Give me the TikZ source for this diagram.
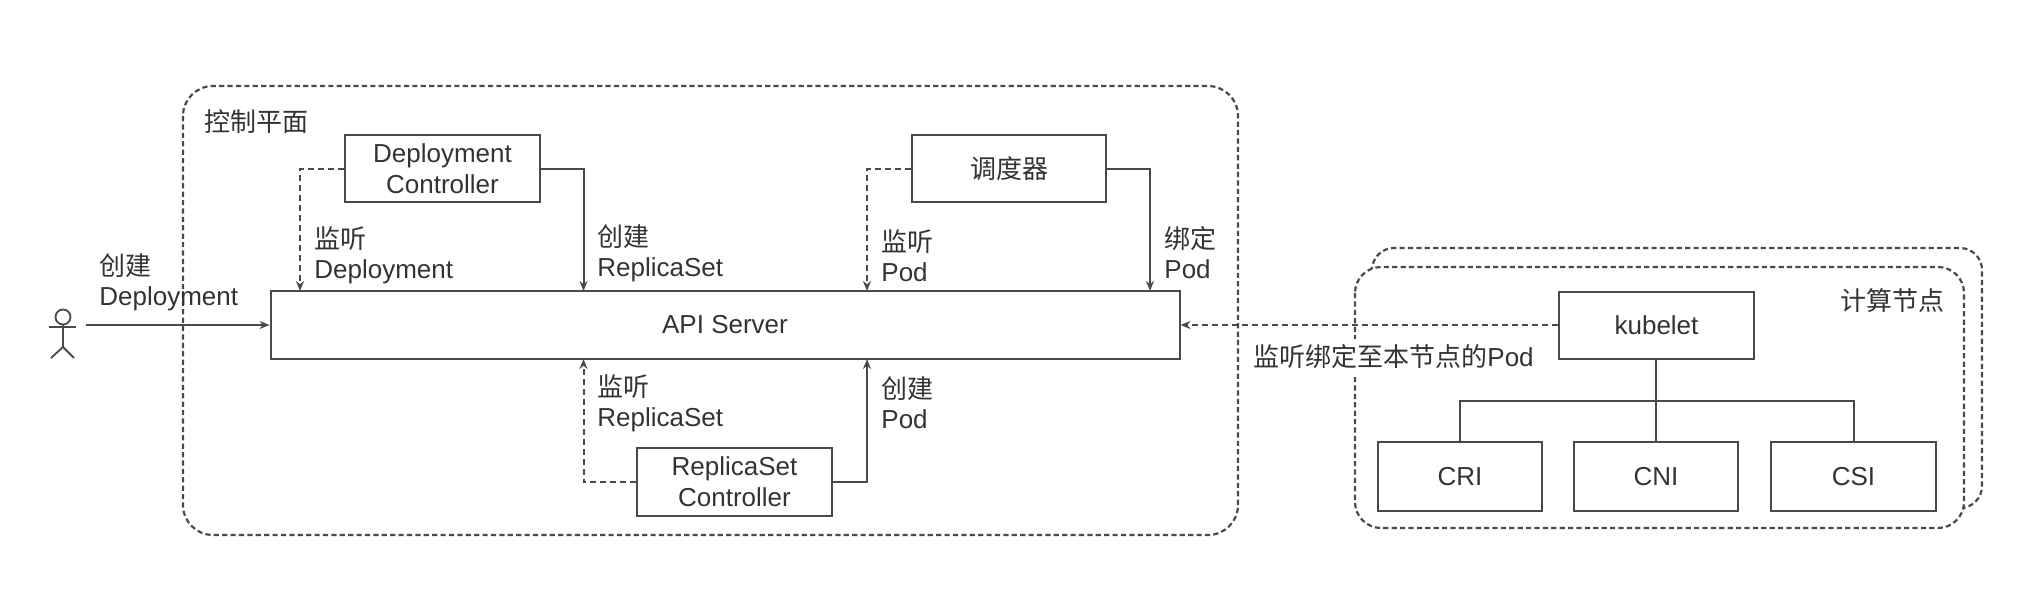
\documentclass[tikz,border=0pt]{standalone}
\usepackage{fontspec}
\setmainfont{Liberation Sans}
\newfontfamily\cjk{Noto Sans CJK SC}
\usetikzlibrary{arrows.meta,calc}
\definecolor{ink}{HTML}{4A4A4A}
\definecolor{txt}{HTML}{333333}
\tikzset{
  boxnode/.style={draw=ink,line width=1pt,fill=white,inner sep=0pt,align=center,text=txt,font=\fontsize{13}{15.5}\selectfont},
  labelnode/.style={inner sep=0pt,anchor=west,align=left,text=txt,font=\fontsize{13}{15}\selectfont},
  region/.style={draw=ink,line width=1.1pt,dash pattern=on 2.6pt off 1.6pt},
  solidlink/.style={draw=ink,line width=1pt,-{Stealth[length=5pt,width=4pt]}},
  dashlink/.style={draw=ink,line width=1pt,dash pattern=on 3pt off 2pt,-{Stealth[length=5pt,width=4pt]}},
  plainlink/.style={draw=ink,line width=1pt},
  figure/.style={draw=ink,line width=0.9pt},
}
\begin{document}
\begin{tikzpicture}[x=0.5pt,y=-0.5pt]
\useasboundingbox[fill=white] (0,0) rectangle (2024,594);
% regions
\draw[region,rounded corners=15pt] (183,86) rectangle (1238,535);
\draw[region,rounded corners=11pt] (1372,268) -- (1372,248) -- (1982,248) -- (1982,508) -- (1964,508);
\draw[region,fill=white,rounded corners=13pt] (1355,267) rectangle (1964,528);
% boxes
\node[boxnode,minimum width=97.5pt,minimum height=33.5pt] (dc) at (442.5,168.5) {Deployment\\Controller};
\node[boxnode,minimum width=97pt,minimum height=33.5pt] (sch) at (1009,168.5) {\cjk 调度器};
\node[boxnode,minimum width=454.5pt,minimum height=34pt] (api) at (725,325) {API Server};
\node[boxnode,minimum width=97.5pt,minimum height=34pt] (rs) at (734.5,482) {ReplicaSet\\Controller};
\node[boxnode,minimum width=97.5pt,minimum height=33.5pt] (kub) at (1656.5,325) {kubelet};
\node[boxnode,minimum width=82pt,minimum height=34.5pt] (cri) at (1460,476.5) {CRI};
\node[boxnode,minimum width=82pt,minimum height=34.5pt] (cni) at (1656,476.5) {CNI};
\node[boxnode,minimum width=82.5pt,minimum height=34.5pt] (csi) at (1853.5,476.5) {CSI};
% anchor points
\coordinate (apiA) at (300,291);
\coordinate (apiB) at (583.5,291);
\coordinate (apiC) at (867,291);
\coordinate (apiD) at (1150,291);
\coordinate (apiE) at (583.5,359);
\coordinate (apiF) at (867,359);
\coordinate (hand) at (86,325);
\coordinate (bus) at (1656,401);
% connectors
\draw[dashlink] (dc.west) -| (apiA);
\draw[solidlink] (dc.east) -| (apiB);
\draw[dashlink] (sch.west) -| (apiC);
\draw[solidlink] (sch.east) -| (apiD);
\draw[dashlink] (rs.west) -| (apiE);
\draw[solidlink] (rs.east) -| (apiF);
\draw[solidlink] (hand) -- (api.west);
\draw[dashlink] (kub.west) -- (api.east);
\draw[plainlink] (kub.south -| cni.north) -- (cni.north);
\draw[plainlink] (cri.north) |- (bus) -| (csi.north);
% actor
\draw[figure] (63,317) ellipse (7.5 and 7.5);
\draw[figure] (49,327) -- (76,327);
\draw[figure] (63,324.5) -- (63,347);
\draw[figure] (51,358) -- (63,347) -- (74,358);
% labels
\node[labelnode] (l0) at (99,282.5) {\cjk 创建\\Deployment};
\node[labelnode] (l1) at (314,255.5) {\cjk 监听\\Deployment};
\node[labelnode] (l2) at (597,253) {\cjk 创建\\ReplicaSet};
\node[labelnode] (l3) at (881,255.5) {\cjk 监听\\Pod};
\node[labelnode] (l4) at (1164,253) {\cjk 绑定\\Pod};
\node[labelnode] (l5) at (597,403) {\cjk 监听\\ReplicaSet};
\node[labelnode] (l6) at (881,403) {\cjk 创建\\Pod};
\node[labelnode] (t1) at (204,122) {\cjk 控制平面};
\node[labelnode] (t2) at (1840,301) {\cjk 计算节点};
\node[labelnode,fill=white,inner ysep=3pt] (l7) at (1253,357) {{\cjk 监听绑定至本节点的}Pod};
\end{tikzpicture}
\end{document}
